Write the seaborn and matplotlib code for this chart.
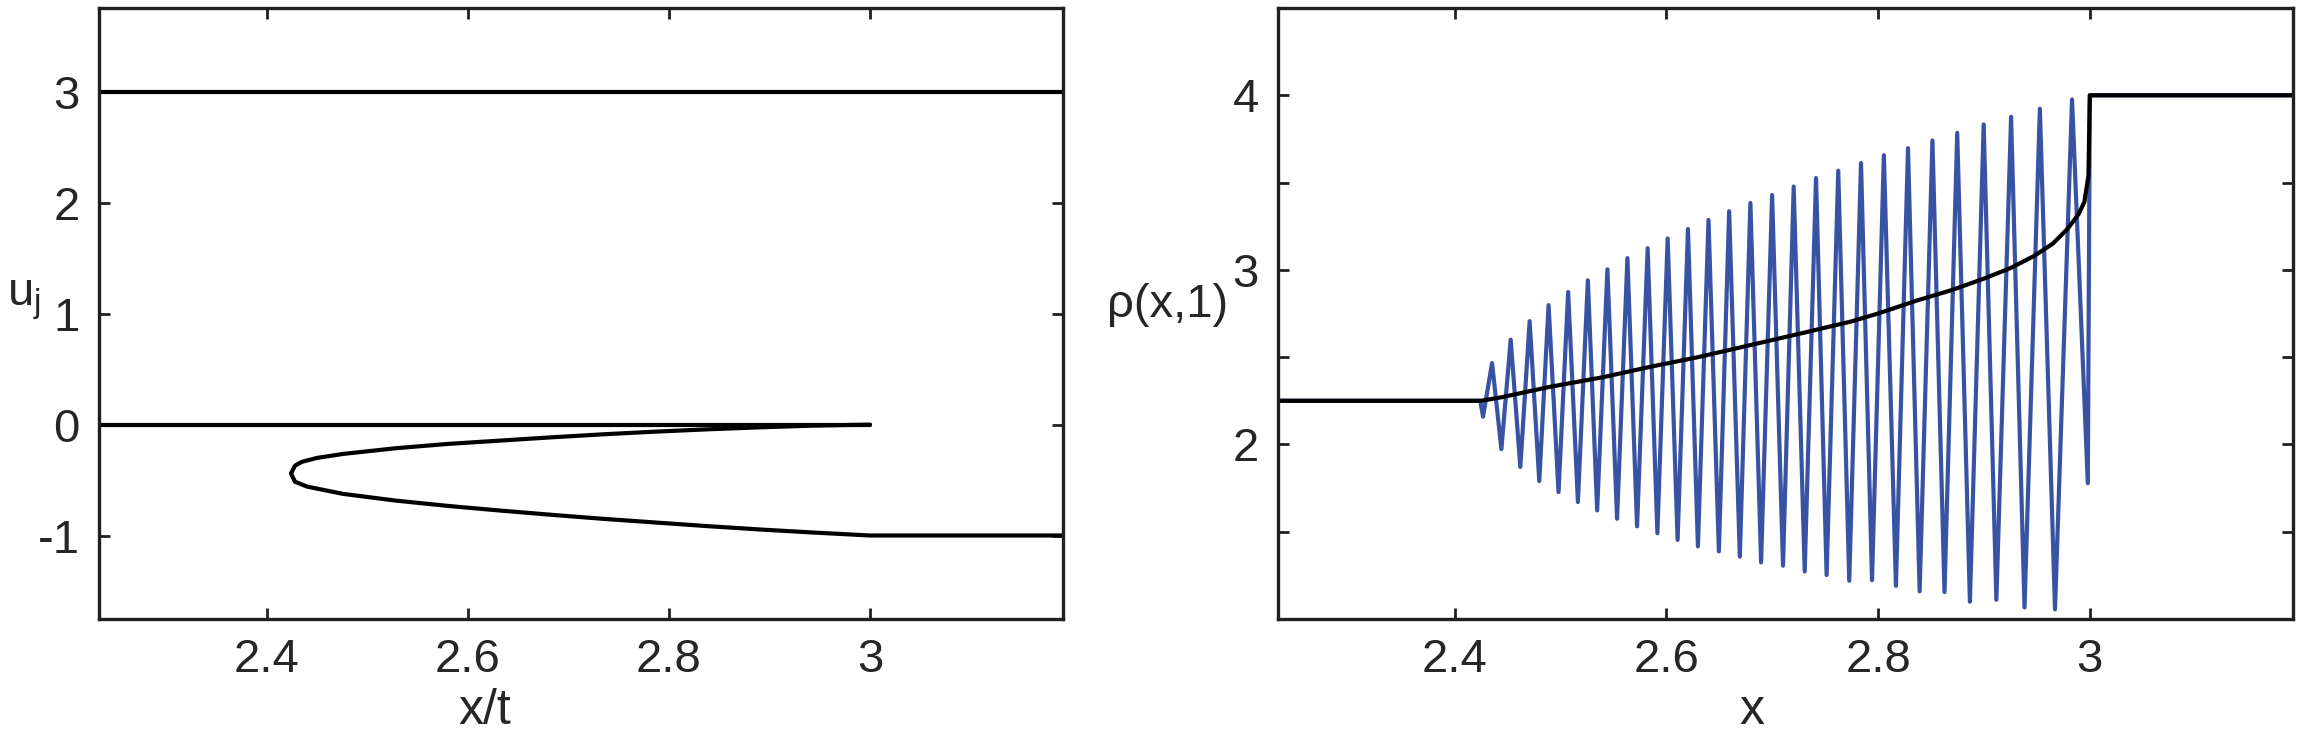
import matplotlib
matplotlib.use("Agg")
import matplotlib.pyplot as plt
import seaborn as sns
from matplotlib.ticker import FixedLocator, FixedFormatter

sns.set_style("ticks")
plt.rcParams['font.family'] = ['Liberation Sans', 'DejaVu Sans']
plt.rcParams['axes.unicode_minus'] = False
plt.rcParams['mathtext.default'] = 'regular'

# ---- left panel: Riemann invariants u_j vs x/t ----
u_top_x = [2.233, 3.192]
u_top_y = [3.0, 3.0]
u_zero_x = [2.233, 3.0]
u_zero_y = [0.0, 0.0]
# fold curve: upper branch (from x/t=3 back to the fold), then lower branch, then flat
u_fold_x = [3.0, 2.943, 2.891, 2.839, 2.787, 2.735, 2.684, 2.632, 2.58, 2.528,
            2.476, 2.45, 2.435, 2.428, 2.424, 2.428, 2.44, 2.476, 2.528, 2.58,
            2.632, 2.684, 2.735, 2.787, 2.839, 2.891, 2.943, 3.0, 3.192]
u_fold_y = [0.0, -0.009, -0.024, -0.042, -0.063, -0.087, -0.114, -0.144, -0.174, -0.213,
            -0.264, -0.3, -0.335, -0.37, -0.44, -0.515, -0.559, -0.625, -0.685, -0.733,
            -0.775, -0.814, -0.85, -0.883, -0.916, -0.946, -0.973, -1.0, -1.0]

# ---- right panel: density rho(x,1) ----
peak_x = [2.4352, 2.4528, 2.4707, 2.4886, 2.5071, 2.5257, 2.5442, 2.5631, 2.5822,
          2.6011, 2.6203, 2.6397, 2.6592, 2.6793, 2.6998, 2.7202, 2.7413, 2.7623,
          2.7838, 2.8054, 2.8282, 2.8513, 2.8747, 2.8997, 2.9256, 2.9528, 2.9832]
peak_y = [2.466, 2.600, 2.706, 2.798, 2.873, 2.940, 3.003, 3.067, 3.124,
          3.180, 3.234, 3.286, 3.336, 3.383, 3.429, 3.477, 3.526, 3.568,
          3.612, 3.657, 3.697, 3.741, 3.785, 3.833, 3.877, 3.923, 3.976]
trough_x = [2.4267, 2.4440, 2.4619, 2.4798, 2.4980, 2.5163, 2.5345, 2.5533, 2.5722,
            2.5914, 2.6105, 2.6297, 2.6495, 2.6693, 2.6894, 2.7101, 2.7306, 2.7513,
            2.7727, 2.7942, 2.8168, 2.8392, 2.8627, 2.8867, 2.9117, 2.9383, 2.9671, 2.9981]
trough_y = [2.159, 1.973, 1.871, 1.790, 1.727, 1.670, 1.622, 1.574, 1.531,
            1.491, 1.453, 1.416, 1.387, 1.357, 1.324, 1.305, 1.272, 1.252,
            1.219, 1.222, 1.190, 1.158, 1.154, 1.099, 1.110, 1.066, 1.055, 1.778]
rho_left_x, rho_left_y = [2.233, 2.424], [2.25, 2.25]
rho_right_x, rho_right_y = [3.0, 3.192], [4.0, 4.0]

whitham_x = [2.233, 2.425, 2.444, 2.49, 2.54, 2.585, 2.63, 2.68, 2.73, 2.775, 2.8,
             2.837, 2.87, 2.9, 2.925, 2.9475, 2.965, 2.979, 2.9895, 2.9949, 2.9987,
             3.0, 3.192]
whitham_y = [2.25, 2.25, 2.27, 2.33, 2.385, 2.445, 2.50, 2.57, 2.64, 2.705, 2.75,
             2.825, 2.885, 2.95, 3.01, 3.08, 3.15, 3.235, 3.32, 3.39, 3.54,
             4.0, 4.0]

# interleave troughs and peaks into the oscillating trace
osc_x, osc_y = list(rho_left_x), list(rho_left_y)
for i in range(len(trough_x)):
    osc_x.append(trough_x[i]); osc_y.append(trough_y[i])
    if i < len(peak_x):
        osc_x.append(peak_x[i]); osc_y.append(peak_y[i])
osc_x += rho_right_x
osc_y += rho_right_y

BLACK = '#000000'
BLUE = '#3953a4'
FS = 34
FS_LAB = 36

fig = plt.figure(figsize=(23.02, 7.34), dpi=100)
ax1 = fig.add_axes([0.0430, 0.1567, 0.4188, 0.8324])
ax2 = fig.add_axes([0.5552, 0.1567, 0.4409, 0.8324])

lw = 3.0
for xs, ys in [(u_top_x, u_top_y), (u_zero_x, u_zero_y), (u_fold_x, u_fold_y)]:
    sns.lineplot(x=xs, y=ys, sort=False, estimator=None, color=BLACK, lw=lw, ax=ax1)

sns.lineplot(x=osc_x, y=osc_y, sort=False, estimator=None, color=BLUE, lw=3.0, ax=ax2)
sns.lineplot(x=whitham_x, y=whitham_y, sort=False, estimator=None, color=BLACK, lw=lw, ax=ax2)

ax1.set_xlim(2.233, 3.192)
ax1.set_ylim(-1.753, 3.758)
ax2.set_xlim(2.233, 3.192)
ax2.set_ylim(1.0, 4.5)

xt = [2.4, 2.6, 2.8, 3.0]
xl = ['2.4', '2.6', '2.8', '3']
for ax in (ax1, ax2):
    ax.xaxis.set_major_locator(FixedLocator(xt))
    ax.xaxis.set_major_formatter(FixedFormatter(xl))
    ax.tick_params(direction='in', length=8, width=2, top=True, right=True,
                   labelsize=FS, pad=14, color='#231f20')
    for s in ax.spines.values():
        s.set_linewidth(2.4)
        s.set_color('#231f20')
        s.set_visible(True)

ax1.yaxis.set_major_locator(FixedLocator([-1, 0, 1, 2, 3]))
ax1.yaxis.set_major_formatter(FixedFormatter(['-1', '0', '1', '2', '3']))
ax2.yaxis.set_major_locator(FixedLocator([1.5, 2, 2.5, 3, 3.5, 4]))
ax2.yaxis.set_major_formatter(FixedFormatter(['', '2', '', '3', '', '4']))

ax1.set_xlabel('x/t', fontsize=FS_LAB, va='baseline')
ax1.xaxis.set_label_coords(0.40, -0.172)
ax1.set_ylabel('u$_\\mathregular{j}$', fontsize=FS, rotation=0, ha='left', va='center')
ax1.yaxis.set_label_coords(-0.095, 0.522)

ax2.set_xlabel('x', fontsize=FS_LAB, va='baseline')
ax2.xaxis.set_label_coords(0.467, -0.172)
ax2.set_ylabel('\u03c1(x,1)', fontsize=FS, rotation=0, ha='right', va='center')
ax2.yaxis.set_label_coords(-0.049, 0.514)

fig.savefig('out.png', dpi=100)
